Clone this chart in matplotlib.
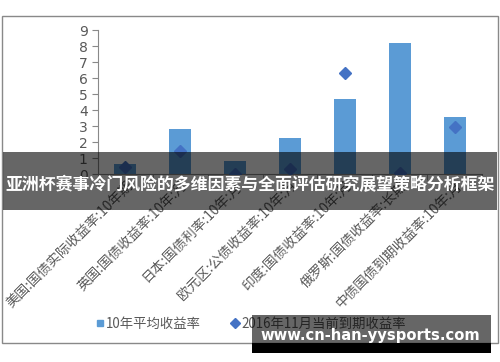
import matplotlib.pyplot as plt
from matplotlib.patches import Rectangle
from matplotlib.lines import Line2D
import numpy as np

plt.rcParams['font.family'] = ['Noto Sans CJK SC', 'DejaVu Sans']

categories = ['美国:国债实际收益率:10年期', '英国:国债收益率:10年:月', '日本:国债利率:10年:月',
              '欧元区:公债收益率:10年:月', '印度:国债收益率:10年:月', '俄罗斯:国债收益率:长期',
              '中债国债到期收益率:10年:月']
avg_10y = [0.65, 2.8, 0.8, 2.25, 4.7, 8.2, 3.55]
current_ytm = [0.45, 1.45, 0.02, 0.3, 6.3, 0.05, 2.95]
series_names = ['10年平均收益率', '2016年11月当前到期收益率']
title = '亚洲杯赛事冷门风险的多维因素与全面评估研究展望策略分析框架'
watermark = 'www.cn-han-yysports.com'

fig = plt.figure(figsize=(5, 3.62), dpi=100)
ax = fig.add_axes([0.196, 0.519, 0.768, 0.398])

x = np.arange(len(categories))
ax.bar(x, avg_10y, width=0.4, color='#5B9BD5', zorder=2)
ax.plot(x, current_ytm, linestyle='none', marker='D', markersize=6,
        color='#4472C4', zorder=3)

ax.set_xlim(-0.5, len(categories) - 0.5)
ax.set_ylim(0, 9)
ax.set_yticks(range(10))
ax.set_xticks(x)
ax.set_xticklabels(categories, rotation=45, ha='right', rotation_mode='anchor',
                   fontsize=9.8, color='#595959')
ax.set_xticks(np.arange(-0.5, len(categories)), minor=True)
ax.tick_params(axis='x', which='major', length=0, pad=3)
ax.tick_params(axis='x', which='minor', length=4, color='#898989')
ax.tick_params(axis='y', length=4, color='#898989', labelcolor='#595959', labelsize=10)
for lab in ax.get_yticklabels():
    lab.set_family('DejaVu Sans')
for s in ['top', 'right']:
    ax.spines[s].set_visible(False)
for s in ['left', 'bottom']:
    ax.spines[s].set_color('#898989')

# outer chart frame
fig.patches.append(Rectangle((0.003, 0.0525), 0.993, 0.9035, transform=fig.transFigure,
                             fill=False, edgecolor='#898989', lw=1, zorder=1))

handles = [Line2D([], [], linestyle='none', marker='s', markersize=5, color='#5B9BD5'),
           Line2D([], [], linestyle='none', marker='D', markersize=5, color='#4472C4')]
leg = fig.legend(handles, series_names, loc='center', bbox_to_anchor=(0.5, 0.105),
                 ncol=2, frameon=False, fontsize=9.6, handletextpad=0.05,
                 columnspacing=2.2, handlelength=0.8)
for t in leg.get_texts():
    t.set_color('#595959')
leg.set_zorder(5)

# title band
fig.patches.append(Rectangle((0.006, 0.42), 0.988, 0.16, transform=fig.transFigure,
                             facecolor='black', alpha=0.6, lw=0, zorder=6))
fig.text(0.5, 0.489, title, ha='center', va='center', color='white',
         fontsize=12.2, fontweight='bold', zorder=7)

# watermark box
fig.patches.append(Rectangle((0.504, 0.0525), 0.478, 0.077, transform=fig.transFigure,
                             facecolor='black', alpha=0.6, lw=0, zorder=8))
fig.patches.append(Rectangle((0.504, 0.025), 0.478, 0.0275, transform=fig.transFigure,
                             facecolor='black', lw=0, zorder=8))
fig.text(0.741, 0.072, watermark, ha='center', va='center', color='white',
         fontsize=10.6, fontweight='bold', family='DejaVu Sans', zorder=9)

fig.savefig('out.png', dpi=100)
